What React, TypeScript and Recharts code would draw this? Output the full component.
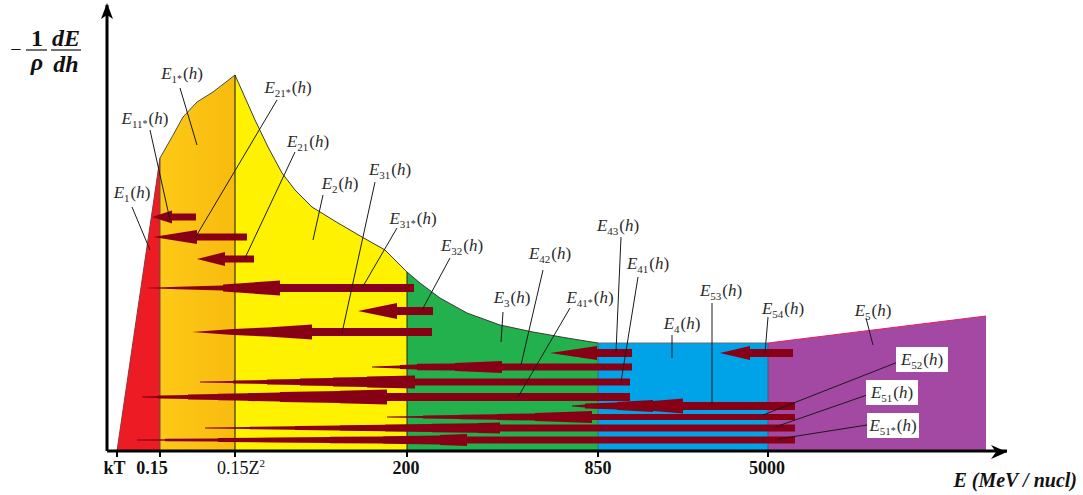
import { ComposedChart, Area, Line, XAxis, YAxis, ReferenceDot } from 'recharts'

const SERIF = '"Liberation Serif", "Times New Roman", Times, serif'
const ARROW_RED = '#880015'

// energy marks on the (schematic) horizontal axis
const tickValues = [10, 53, 128, 300, 491, 661]
const tickNames = ['kT', '0.15', '0.15Z', '200', '850', '5000']

// upper edge of each stopping-power region as [x, value]
const redTop = [[10, 0], [53, 293]]
const orangeTop = [[53, 293], [65, 314], [76, 334], [90, 349], [106, 359], [128, 376]]
const yellowTop = [[128, 376], [148, 331], [161, 304], [175, 278], [188, 261], [205, 244], [231, 228], [255, 214], [278, 201], [300, 179]]
const greenTop = [[300, 179], [313, 168], [333, 153], [360, 138], [393, 126], [426, 119], [460, 113], [491, 108]]
const blueTop = [[491, 108], [661, 108]]
const purpleTop = [[661, 108], [879, 135]]

// energy-loss arrows: level and outline as [x, half thickness], tip first
const arrowLevels = [234, 214, 192, 163, 140, 119, 98, 98, 84, 69, 54, 45, 34, 23, 11]
const arrowOutlines = [
  [[45, 0], [65, 6.5], [65, 3.5], [89, 3.5]],
  [[46, 0], [90, 7], [90, 3.5], [140, 3.5]],
  [[90, 0], [118, 7], [118, 3.5], [147, 3.5]],
  [[40, 0.3], [80, 1.5], [116, 2.5], [116, 3.5], [173, 7.5], [173, 4], [307, 4]],
  [[251, 0], [290, 8], [290, 4], [326, 4]],
  [[85, 0], [126, 3], [160, 4.5], [205, 7.5], [205, 4], [325, 4]],
  [[443, 0], [490, 7], [490, 4], [525, 4]],
  [[613, 0], [643, 7], [643, 4], [686, 4]],
  [[265, 0.5], [293, 1.5], [293, 2], [310, 2.5], [310, 3.2], [348, 3.5], [348, 4], [395, 6], [395, 3.5], [525, 3.5]],
  [[93, 0.5], [126, 1], [126, 1.5], [160, 2], [160, 2.5], [193, 3], [193, 3.5], [226, 4], [226, 4.5], [260, 5], [260, 5.5], [308, 6.5], [308, 3.5], [523, 3.5]],
  [[35, 0.5], [51, 1], [51, 1.5], [81, 2], [81, 2.5], [111, 3], [111, 3.2], [141, 3.8], [141, 4], [173, 4.5], [173, 5], [233, 6], [233, 6.2], [280, 7.5], [280, 4], [523, 4]],
  [[465, 0.5], [478, 1.5], [478, 2.5], [510, 3.5], [510, 4], [546, 6], [546, 5], [576, 7.5], [576, 4], [688, 4]],
  [[280, 0.5], [316, 1], [316, 1.5], [353, 2], [353, 2.3], [390, 2.8], [390, 3], [428, 3.5], [428, 4], [485, 6], [485, 3], [688, 3]],
  [[98, 0.5], [143, 1], [143, 1.3], [188, 1.7], [188, 2], [233, 2.5], [233, 2.8], [278, 3.2], [278, 3.5], [325, 4], [325, 4.3], [371, 4.8], [371, 5], [393, 5.5], [393, 3.5], [688, 3.5]],
  [[30, 0.5], [58, 0.7], [58, 1.2], [111, 1.6], [111, 2], [166, 2.4], [166, 2.6], [223, 3], [223, 3.2], [276, 3.6], [276, 3.8], [333, 4.4], [333, 5], [360, 6], [360, 3.5], [688, 3.5]],
]

// curve names E_sub(h), with "*" marking the primed variants
const labelSubs = ['1', '11*', '1*', '21*', '21', '2', '31', '31*', '32', '3', '42', '41*', '43', '41', '4', '53', '54', '5', '52', '51', '51*']
// where each name sits and the end points of its pointer line
const labelAt = [[25, 259], [38, 333], [75, 378], [181, 364], [201, 310], [233, 268], [283, 282], [306, 233], [355, 206], [405, 154], [443, 198], [483, 154], [511, 226], [541, 188], [575, 128], [614, 161], [676, 143], [766, 141], [815, 92], [785, 59], [786, 26]]
const leaderFrom = [[25, 244], [43, 321], [73, 363], [170, 351], [188, 299], [216, 256], [268, 269], [290, 223], [343, 193], [396, 139], [436, 181], [463, 143], [514, 214], [531, 174], [565, 116], [605, 148], [661, 134], [759, 133], [791, 89], [760, 56], [760, 26]]
const leaderTo = [[43, 201], [63, 231], [90, 306], [88, 213], [138, 193], [206, 211], [235, 118], [255, 163], [315, 141], [394, 109], [414, 86], [411, 54], [509, 99], [514, 69], [565, 93], [605, 47], [658, 98], [766, 106], [656, 36], [668, 24], [671, 12]]
const boxedLabels = ['52', '51', '51*']

const regions = [
  { top: redTop, fill: '#ED1C24', stroke: '#8a3a3a' },
  { top: orangeTop, fill: 'url(#orangeFill)', stroke: '#4a4a4a' },
  { top: yellowTop, fill: '#FFF200', stroke: '#3a3a3a' },
  { top: greenTop, fill: '#22B14C', stroke: '#3a3a3a' },
  { top: blueTop, fill: '#00A2E8', stroke: '#5d7280' },
  { top: purpleTop, fill: '#A349A4', stroke: '#E0245A' },
]
const dividerColors = ['#555555', '#111111', '#222222', '#3b6d80', '#4d5d6d']

const tickShift = [-2.5, -8, 6, -1, 0, -1]
const serifStyle = { fontFamily: SERIF }

function XTick({ x, y, payload }: any) {
  const i = tickValues.indexOf(payload.value)
  const name = tickNames[i]
  const tx = x + tickShift[i]
  if (name === '0.15Z') {
    return (
      <text x={tx} y={y + 15} textAnchor="middle" style={serifStyle} fontSize={18} fill="#111">
        <tspan>0.15Z</tspan>
        <tspan fontSize={11} dy={-7}>2</tspan>
      </text>
    )
  }
  return (
    <text x={tx} y={y + 15} textAnchor="middle" style={serifStyle} fontSize={18} fontWeight="bold" fill="#111">
      {name}
    </text>
  )
}

function YTitle() {
  const bold = { style: serifStyle, fontSize: 24, fontWeight: 'bold' as const, fill: '#111' }
  return (
    <g>
      <text x={16} y={56} textAnchor="middle" style={serifStyle} fontSize={20} fill="#111">−</text>
      <text x={37} y={46} textAnchor="middle" {...bold}>1</text>
      <line x1={26} x2={47} y1={50} y2={50} stroke="#111" strokeWidth={1.2} />
      <text x={37} y={70} textAnchor="middle" {...bold} fontStyle="italic">ρ</text>
      <text x={66} y={46} textAnchor="middle" {...bold} fontStyle="italic">dE</text>
      <line x1={51} x2={81} y1={50} y2={50} stroke="#111" strokeWidth={1.2} />
      <text x={66} y={72} textAnchor="middle" {...bold} fontStyle="italic">dh</text>
    </g>
  )
}

function XTitle() {
  return (
    <text x={1077} y={487} textAnchor="end" style={serifStyle} fontSize={20} fontWeight="bold" fontStyle="italic" fill="#111">
      E (MeV / nucl)
    </text>
  )
}

function CurveName({ cx, cy, sub }: any) {
  const star = sub.endsWith('*')
  const num = star ? sub.slice(0, -1) : sub
  const boxed = boxedLabels.includes(sub)
  return (
    <g>
      {boxed && <rect x={cx - 26} y={cy - 12} width={52} height={25} fill="#fff" />}
      <text x={cx} y={cy + 6} textAnchor="middle" style={serifStyle} fontSize={17} fill="#2a2a2a">
        <tspan fontStyle="italic">E</tspan>
        <tspan fontSize={11} dy={4}>{num}</tspan>
        {star && <tspan fontSize={10} dy={-1}>*</tspan>}
        <tspan dx={1} dy={star ? -3 : -4}>(</tspan>
        <tspan fontStyle="italic">h</tspan>
        <tspan>)</tspan>
      </text>
    </g>
  )
}

const XArrowHead = ({ cx, cy }: any) => (
  <path d={`M${cx},${cy + 1} L${cx - 16},${cy - 6} L${cx - 11},${cy + 1} L${cx - 16},${cy + 8} Z`} fill="#000" />
)
const YArrowHead = ({ cx, cy }: any) => (
  <path d={`M${cx},${cy - 2} L${cx + 6},${cy + 14} L${cx},${cy + 10} L${cx - 6},${cy + 14} Z`} fill="#000" />
)

export default function App() {
  return (
    <div style={{ position: 'absolute', left: 0, top: 0, width: 1083, height: 495, background: '#fff' }}>
      <ComposedChart
        width={1083}
        height={495}
        margin={{ top: 5, right: 76, bottom: 0, left: 0 }}
        style={serifStyle}
      >
        <defs>
          <linearGradient id="orangeFill" x1="0" y1="0" x2="1" y2="0">
            <stop offset="0%" stopColor="#FDC916" />
            <stop offset="100%" stopColor="#F8BB0F" />
          </linearGradient>
        </defs>
        <XAxis
          type="number"
          dataKey="x"
          domain={[0, 900]}
          ticks={tickValues}
          interval={0}
          allowDataOverflow
          height={44}
          axisLine={{ stroke: '#000', strokeWidth: 3 }}
          tickLine={{ stroke: '#000', strokeWidth: 2 }}
          tickSize={6}
          tick={<XTick />}
          label={{ content: () => <XTitle /> }}
        />
        <YAxis
          type="number"
          domain={[0, 446]}
          allowDataOverflow
          width={107}
          tick={false}
          tickLine={false}
          axisLine={{ stroke: '#000', strokeWidth: 3 }}
          label={{ content: () => <YTitle /> }}
        />

        {regions.map((r, i) => (
          <Area
            key={`region-${i}`}
            data={r.top.map(([x, v]) => ({ x, v }))}
            dataKey="v"
            type="linear"
            fill={r.fill}
            fillOpacity={1}
            stroke={r.stroke}
            strokeWidth={1}
            dot={false}
            activeDot={false}
            isAnimationActive={false}
            zIndex={100}
          />
        ))}

        {regions.slice(0, 5).map((r, i) => {
          const [x, v] = r.top[r.top.length - 1]
          return (
            <Line
              key={`divider-${i}`}
              data={[{ x, y: 0 }, { x, y: v }]}
              dataKey="y"
              type="linear"
              stroke={dividerColors[i]}
              strokeWidth={1}
              dot={false}
              activeDot={false}
              isAnimationActive={false}
              zIndex={110}
            />
          )
        })}

        {arrowOutlines.map((outline, i) => (
          <Area
            key={`arrow-${i}`}
            data={outline.map(([x, w]) => ({ x, r: [arrowLevels[i] - w, arrowLevels[i] + w] }))}
            dataKey="r"
            type="linear"
            fill={ARROW_RED}
            fillOpacity={1}
            stroke="none"
            dot={false}
            activeDot={false}
            isAnimationActive={false}
            zIndex={120}
          />
        ))}

        {labelSubs.map((sub, i) => (
          <Line
            key={`leader-${i}`}
            data={[
              { x: leaderFrom[i][0], y: leaderFrom[i][1] },
              { x: leaderTo[i][0], y: leaderTo[i][1] },
            ]}
            dataKey="y"
            type="linear"
            stroke="#1a1a1a"
            strokeWidth={1}
            dot={false}
            activeDot={false}
            isAnimationActive={false}
            zIndex={130}
          />
        ))}

        {labelSubs.map((sub, i) => (
          <ReferenceDot
            key={`name-${i}`}
            x={labelAt[i][0]}
            y={labelAt[i][1]}
            r={0}
            ifOverflow="visible"
            shape={(p: any) => <CurveName cx={p.cx} cy={p.cy} sub={sub} />}
            zIndex={140}
          />
        ))}

        <ReferenceDot x={900} y={0} r={0} ifOverflow="visible" shape={(p: any) => <XArrowHead {...p} />} zIndex={600} />
        <ReferenceDot x={0} y={446} r={0} ifOverflow="visible" shape={(p: any) => <YArrowHead {...p} />} zIndex={600} />
      </ComposedChart>
    </div>
  )
}
